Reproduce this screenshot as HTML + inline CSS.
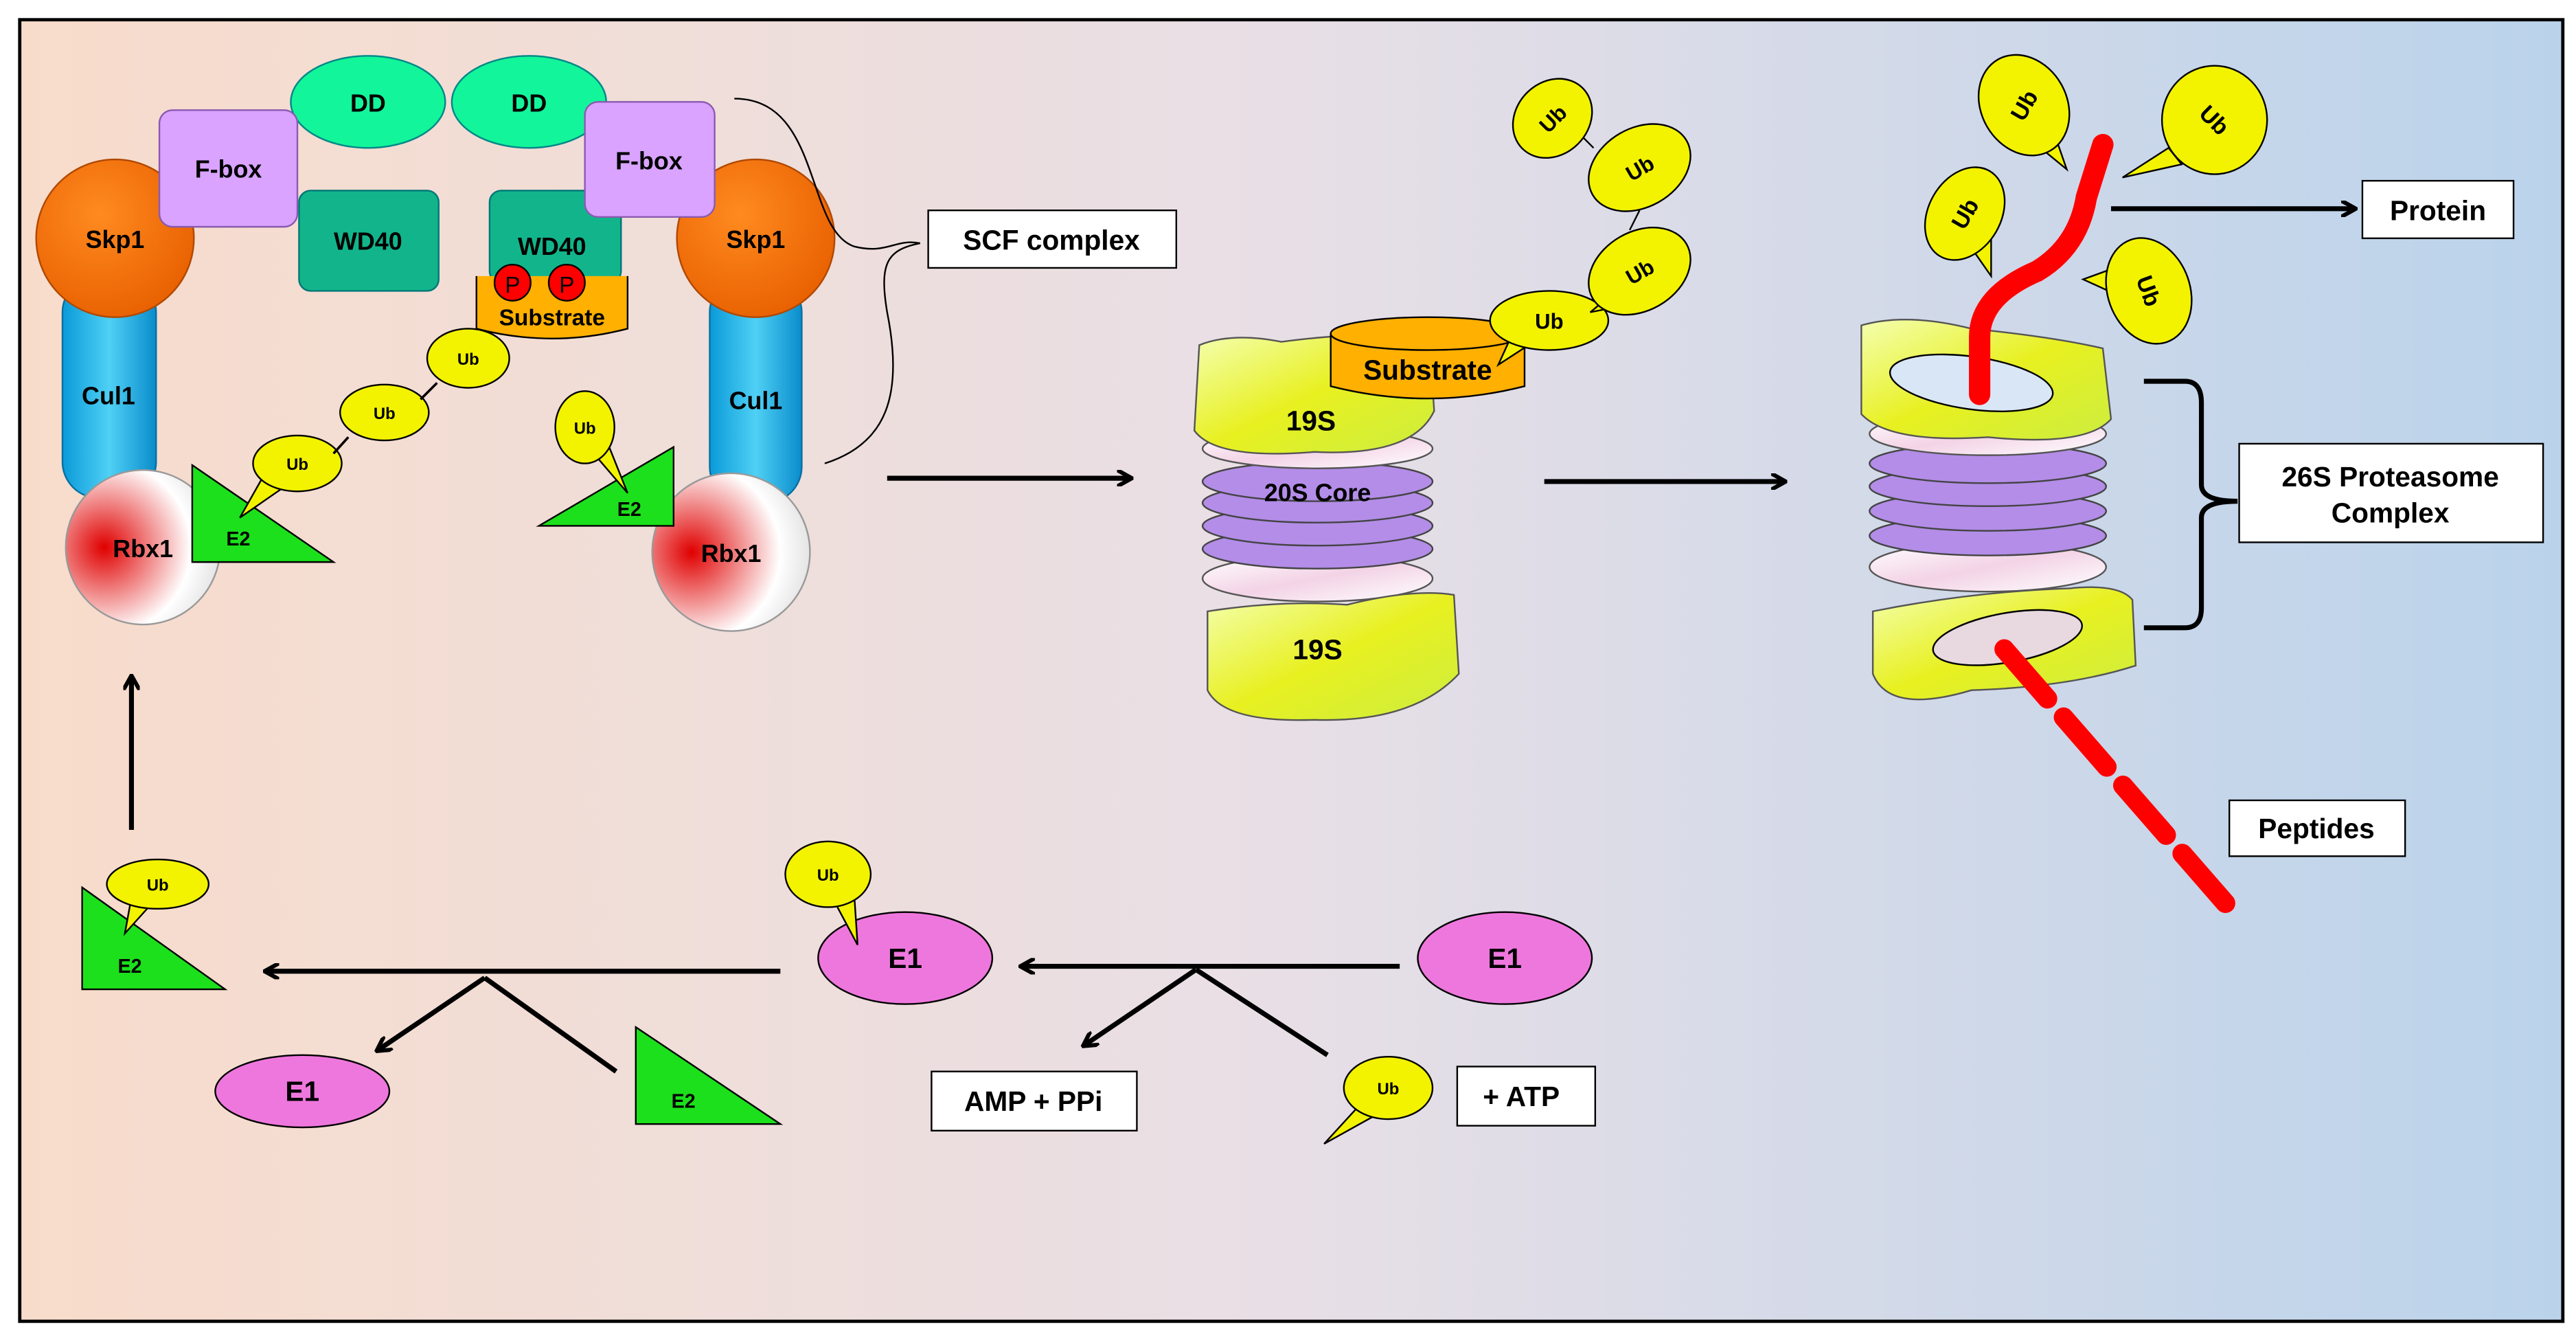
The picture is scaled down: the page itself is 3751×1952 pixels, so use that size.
<!DOCTYPE html>
<html><head><meta charset="utf-8"><style>
html,body{margin:0;padding:0;background:#fff;}
svg{display:block;font-family:"Liberation Sans",Arial,sans-serif;font-weight:bold;}
</style></head><body>
<svg width="3751" height="1952" viewBox="0 0 1568 816" xmlns="http://www.w3.org/2000/svg">
<defs>
<linearGradient id="bg" x1="0" x2="1" y1="0" y2="0">
<stop offset="0" stop-color="#f8dccb"/><stop offset="0.5" stop-color="#e8dfe6"/><stop offset="1" stop-color="#bad3eb"/></linearGradient>
<radialGradient id="rbx" cx="0.25" cy="0.5" r="0.8"><stop offset="0" stop-color="#e00000"/><stop offset="0.7" stop-color="#fff"/><stop offset="1" stop-color="#ddd"/></radialGradient>
<linearGradient id="cul" x1="0" x2="1"><stop offset="0" stop-color="#0a9ad8"/><stop offset="0.5" stop-color="#4fd0f5"/><stop offset="1" stop-color="#0a8ccc"/></linearGradient>
<radialGradient id="sk" cx="0.4" cy="0.35" r="0.7"><stop offset="0" stop-color="#ff8a20"/><stop offset="1" stop-color="#e86000"/></radialGradient>
<linearGradient id="y19" x1="0" x2="1" y1="0" y2="1"><stop offset="0" stop-color="#f4ffb0"/><stop offset="0.5" stop-color="#e8f020"/><stop offset="1" stop-color="#ccee40"/></linearGradient>
<linearGradient id="wd" x1="0" x2="1" y1="0" y2="1"><stop offset="0" stop-color="#fff"/><stop offset="0.5" stop-color="#f3d3e6"/><stop offset="1" stop-color="#fff"/></linearGradient>
<marker id="ar" markerWidth="10" markerHeight="10" refX="8" refY="5" orient="auto" markerUnits="userSpaceOnUse"><path d="M0,0 L9,5 L0,10" fill="none" stroke="#000" stroke-width="2.5"/></marker>
</defs>
<rect x="0" y="0" width="1568" height="816" fill="#fff"/>
<rect x="12" y="12" width="1548" height="792" fill="url(#bg)" stroke="#000" stroke-width="2"/>

<!-- left SCF -->
<rect x="38" y="168" width="57" height="135" rx="22" fill="url(#cul)" stroke="#0a6fa0"/>
<text x="66" y="246" font-size="15" text-anchor="middle">Cul1</text>
<rect x="432" y="168" width="56" height="138" rx="22" fill="url(#cul)" stroke="#0a6fa0"/>
<text x="460" y="249" font-size="15" text-anchor="middle">Cul1</text>
<circle cx="70" cy="145" r="48" fill="url(#sk)" stroke="#b04800"/>
<text x="70" y="151" font-size="15" text-anchor="middle">Skp1</text>
<circle cx="460" cy="145" r="48" fill="url(#sk)" stroke="#b04800"/>
<text x="460" y="151" font-size="15" text-anchor="middle">Skp1</text>
<circle cx="87" cy="333" r="47" fill="url(#rbx)" stroke="#999"/>
<text x="87" y="339" font-size="15" text-anchor="middle">Rbx1</text>
<circle cx="445" cy="336" r="48" fill="url(#rbx)" stroke="#999"/>
<text x="445" y="342" font-size="15" text-anchor="middle">Rbx1</text>
<ellipse cx="224" cy="62" rx="47" ry="28" fill="#13f59a" stroke="#088"/>
<text x="224" y="68" font-size="15" text-anchor="middle">DD</text>
<ellipse cx="322" cy="62" rx="47" ry="28" fill="#13f59a" stroke="#088"/>
<text x="322" y="68" font-size="15" text-anchor="middle">DD</text>
<rect x="97" y="67" width="84" height="71" rx="8" fill="#d9a3ff" stroke="#8a5ab0"/>
<text x="139" y="108" font-size="15" text-anchor="middle">F-box</text>
<rect x="182" y="116" width="85" height="61" rx="7" fill="#12b58b" stroke="#077"/>
<text x="224" y="152" font-size="15" text-anchor="middle">WD40</text>
<rect x="298" y="116" width="80" height="56" rx="7" fill="#12b58b" stroke="#077"/>
<text x="336" y="155" font-size="15" text-anchor="middle">WD40</text>
<rect x="356" y="62" width="79" height="70" rx="8" fill="#d9a3ff" stroke="#8a5ab0"/>
<text x="395" y="103" font-size="15" text-anchor="middle">F-box</text>
<path d="M290,168 L290,200 Q336,212 382,200 L382,168" fill="#ffb000" stroke="#000"/>
<circle cx="312" cy="172" r="11" fill="#f00" stroke="#000"/><text x="312" y="178" font-size="14" font-weight="normal" text-anchor="middle">P</text>
<circle cx="345" cy="172" r="11" fill="#f00" stroke="#000"/><text x="345" y="178" font-size="14" font-weight="normal" text-anchor="middle">P</text>
<text x="336" y="198" font-size="14" text-anchor="middle">Substrate</text>

<polygon points="117,283 117,342 203,342" fill="#1ce01c" stroke="#000"/>
<text x="145" y="332" font-size="12" text-anchor="middle">E2</text>
<path d="M159,292 L146,315 L172,297 Z" fill="#f3f300" stroke="#000"/>
<ellipse cx="181" cy="282" rx="27" ry="17" fill="#f3f300" stroke="#000"/><text x="181" y="286" font-size="10" text-anchor="middle">Ub</text>
<path d="M203,276 L212,266" stroke="#000" stroke-width="1.5"/>
<ellipse cx="234" cy="251" rx="27" ry="17" fill="#f3f300" stroke="#000"/><text x="234" y="255" font-size="10" text-anchor="middle">Ub</text>
<path d="M256,243 L266,233" stroke="#000" stroke-width="1.5"/>
<ellipse cx="285" cy="218" rx="25" ry="18" fill="#f3f300" stroke="#000"/><text x="285" y="222" font-size="10" text-anchor="middle">Ub</text>

<polygon points="328,320 410,272 410,320" fill="#1ce01c" stroke="#000"/>
<text x="383" y="314" font-size="12" text-anchor="middle">E2</text>
<path d="M358,272 L382,300 L370,270 Z" fill="#f3f300" stroke="#000"/>
<ellipse cx="356" cy="260" rx="18" ry="22" fill="#f3f300" stroke="#000"/><text x="356" y="264" font-size="10" text-anchor="middle">Ub</text>

<path d="M447,60 C500,60 490,140 520,150 C540,155 545,145 560,148 C540,152 535,160 540,190 C550,240 540,270 502,282" fill="none" stroke="#000" stroke-width="1"/>
<rect x="565" y="128" width="151" height="35" fill="#fff" stroke="#000"/>
<text x="640" y="152" font-size="17" text-anchor="middle">SCF complex</text>

<line x1="540" y1="291" x2="688" y2="291" stroke="#000" stroke-width="3" marker-end="url(#ar)"/>

<!-- middle proteasome -->
<ellipse cx="802" cy="352" rx="70" ry="14" fill="url(#wd)" stroke="#555"/>
<ellipse cx="802" cy="334" rx="70" ry="12" fill="#b38de8" stroke="#444"/>
<ellipse cx="802" cy="320" rx="70" ry="12" fill="#b38de8" stroke="#444"/>
<ellipse cx="802" cy="306" rx="70" ry="12" fill="#b38de8" stroke="#444"/>
<ellipse cx="802" cy="293" rx="70" ry="12" fill="#b38de8" stroke="#444"/>
<text x="802" y="305" font-size="15" text-anchor="middle">20S Core</text>
<ellipse cx="802" cy="273" rx="70" ry="12" fill="url(#wd)" stroke="#555"/>
<path d="M730,210 Q750,202 780,208 Q840,200 870,208 L873,250 Q860,278 800,275 Q740,280 727,262 Z" fill="url(#y19)" stroke="#555"/>
<text x="798" y="262" font-size="17" text-anchor="middle">19S</text>
<path d="M735,372 Q780,365 820,368 Q860,358 885,362 L888,410 Q860,440 800,438 Q745,440 735,420 Z" fill="url(#y19)" stroke="#555"/>
<text x="802" y="401" font-size="17" text-anchor="middle">19S</text>
<path d="M810,203 L810,235 Q869,250 928,235 L928,203" fill="#ffb000" stroke="#000"/>
<ellipse cx="869" cy="203" rx="59" ry="10" fill="#ffb000" stroke="#000"/>
<text x="869" y="231" font-size="17" text-anchor="middle">Substrate</text>
<path d="M922,200 L912,222 L935,207 Z" fill="#f3f300" stroke="#000"/>
<ellipse cx="943" cy="195" rx="36" ry="18" fill="#f3f300" stroke="#000"/><text x="943" y="200" font-size="13" text-anchor="middle">Ub</text>
<path d="M980,180 L968,190 L988,186Z" fill="#f3f300" stroke="#000"/>
<ellipse cx="998" cy="165" rx="33" ry="24" fill="#f3f300" stroke="#000" transform="rotate(-30 998 165)"/><text x="998" y="170" font-size="13" text-anchor="middle" transform="rotate(-30 998 165)">Ub</text>
<path d="M992,140 L998,128" stroke="#000"/>
<ellipse cx="998" cy="102" rx="33" ry="24" fill="#f3f300" stroke="#000" transform="rotate(-30 998 102)"/><text x="998" y="107" font-size="13" text-anchor="middle" transform="rotate(-30 998 102)">Ub</text>
<path d="M970,90 L962,82" stroke="#000"/>
<ellipse cx="945" cy="72" rx="26" ry="22" fill="#f3f300" stroke="#000" transform="rotate(-45 945 72)"/><text x="945" y="77" font-size="13" text-anchor="middle" transform="rotate(-45 945 72)">Ub</text>

<line x1="940" y1="293" x2="1086" y2="293" stroke="#000" stroke-width="3" marker-end="url(#ar)"/>

<!-- right proteasome -->
<ellipse cx="1210" cy="345" rx="72" ry="15" fill="url(#wd)" stroke="#555"/>
<ellipse cx="1210" cy="326" rx="72" ry="12" fill="#b38de8" stroke="#444"/>
<ellipse cx="1210" cy="311" rx="72" ry="12" fill="#b38de8" stroke="#444"/>
<ellipse cx="1210" cy="296" rx="72" ry="12" fill="#b38de8" stroke="#444"/>
<ellipse cx="1210" cy="282" rx="72" ry="12" fill="#b38de8" stroke="#444"/>
<ellipse cx="1210" cy="264" rx="72" ry="13" fill="url(#wd)" stroke="#555"/>
<path d="M1133,198 Q1160,190 1200,200 Q1250,205 1280,212 L1285,255 Q1270,272 1210,266 Q1150,270 1133,252 Z" fill="url(#y19)" stroke="#555"/>
<ellipse cx="1200" cy="233" rx="50" ry="16" fill="#d9e6f5" stroke="#000" transform="rotate(8 1200 233)"/>
<path d="M1140,372 Q1200,360 1260,358 Q1290,355 1298,365 L1300,405 Q1260,418 1200,420 Q1150,435 1140,410 Z" fill="url(#y19)" stroke="#555"/>
<ellipse cx="1222" cy="388" rx="46" ry="15" fill="#e8d8e0" stroke="#000" transform="rotate(-10 1222 388)"/>
<path d="M1205,240 L1205,205 Q1205,180 1240,165 Q1265,150 1270,120 L1280,88" fill="none" stroke="#f00" stroke-width="13" stroke-linecap="round"/>
<path d="M1220,395 L1355,550" stroke="#f00" stroke-width="12" stroke-dasharray="40,15" stroke-linecap="round"/>
<path d="M1236,85 L1258,103 L1250,80Z" fill="#f3f300" stroke="#000"/>
<ellipse cx="1232" cy="64" rx="26" ry="32" fill="#f3f300" stroke="#000" transform="rotate(-30 1232 64)"/><text x="1232" y="69" font-size="14" text-anchor="middle" transform="rotate(-60 1232 64)">Ub</text>
<path d="M1320,90 L1292,108 L1328,100Z" fill="#f3f300" stroke="#000"/>
<ellipse cx="1348" cy="73" rx="32" ry="33" fill="#f3f300" stroke="#000"/><text x="1348" y="78" font-size="14" text-anchor="middle" transform="rotate(45 1348 73)">Ub</text>
<path d="M1198,148 L1212,168 L1212,145Z" fill="#f3f300" stroke="#000"/>
<ellipse cx="1196" cy="130" rx="22" ry="30" fill="#f3f300" stroke="#000" transform="rotate(30 1196 130)"/><text x="1196" y="135" font-size="14" text-anchor="middle" transform="rotate(-60 1196 130)">Ub</text>
<path d="M1290,162 L1268,170 L1290,180Z" fill="#f3f300" stroke="#000"/>
<ellipse cx="1308" cy="177" rx="25" ry="33" fill="#f3f300" stroke="#000" transform="rotate(-20 1308 177)"/><text x="1308" y="182" font-size="14" text-anchor="middle" transform="rotate(70 1308 177)">Ub</text>

<line x1="1285" y1="127" x2="1433" y2="127" stroke="#000" stroke-width="3" marker-end="url(#ar)"/>
<rect x="1438" y="110" width="92" height="35" fill="#fff" stroke="#000"/>
<text x="1484" y="134" font-size="17" text-anchor="middle">Protein</text>
<path d="M1305,232 L1330,232 Q1340,232 1340,245 L1340,295 Q1340,305 1362,305 Q1340,305 1340,315 L1340,370 Q1340,382 1330,382 L1305,382" fill="none" stroke="#000" stroke-width="3"/>
<rect x="1363" y="270" width="185" height="60" fill="#fff" stroke="#000"/>
<text x="1455" y="296" font-size="17" text-anchor="middle">26S Proteasome</text>
<text x="1455" y="318" font-size="17" text-anchor="middle">Complex</text>
<rect x="1357" y="487" width="107" height="34" fill="#fff" stroke="#000"/>
<text x="1410" y="510" font-size="17" text-anchor="middle">Peptides</text>

<!-- bottom cycle -->
<line x1="80" y1="505" x2="80" y2="412" stroke="#000" stroke-width="3" marker-end="url(#ar)"/>
<polygon points="50,540 50,602 137,602" fill="#1ce01c" stroke="#000"/>
<text x="79" y="592" font-size="12" text-anchor="middle">E2</text>
<path d="M80,546 L76,568 L94,548Z" fill="#f3f300" stroke="#000"/>
<ellipse cx="96" cy="538" rx="31" ry="15" fill="#f3f300" stroke="#000"/><text x="96" y="542" font-size="10" text-anchor="middle">Ub</text>
<line x1="475" y1="591" x2="162" y2="591" stroke="#000" stroke-width="3" marker-end="url(#ar)"/>
<line x1="295" y1="595" x2="230" y2="639" stroke="#000" stroke-width="3" marker-end="url(#ar)"/>
<line x1="295" y1="595" x2="375" y2="652" stroke="#000" stroke-width="3"/>
<ellipse cx="184" cy="664" rx="53" ry="22" fill="#ee77dd" stroke="#000"/>
<text x="184" y="670" font-size="17" text-anchor="middle">E1</text>
<polygon points="387,625 387,684 475,684" fill="#1ce01c" stroke="#000"/>
<text x="416" y="674" font-size="12" text-anchor="middle">E2</text>

<ellipse cx="551" cy="583" rx="53" ry="28" fill="#ee77dd" stroke="#000"/>
<text x="551" y="589" font-size="17" text-anchor="middle">E1</text>
<path d="M506,545 L522,575 L520,545Z" fill="#f3f300" stroke="#000"/>
<ellipse cx="504" cy="532" rx="26" ry="20" fill="#f3f300" stroke="#000"/><text x="504" y="536" font-size="10" text-anchor="middle">Ub</text>
<line x1="852" y1="588" x2="622" y2="588" stroke="#000" stroke-width="3" marker-end="url(#ar)"/>
<line x1="728" y1="590" x2="660" y2="636" stroke="#000" stroke-width="3" marker-end="url(#ar)"/>
<line x1="728" y1="590" x2="808" y2="642" stroke="#000" stroke-width="3"/>
<rect x="567" y="652" width="125" height="36" fill="#fff" stroke="#000"/>
<text x="629" y="676" font-size="17" text-anchor="middle">AMP + PPi</text>
<ellipse cx="916" cy="583" rx="53" ry="28" fill="#ee77dd" stroke="#000"/>
<text x="916" y="589" font-size="17" text-anchor="middle">E1</text>
<path d="M828,672 L806,696 L842,676Z" fill="#f3f300" stroke="#000"/>
<ellipse cx="845" cy="662" rx="27" ry="19" fill="#f3f300" stroke="#000"/><text x="845" y="666" font-size="10" text-anchor="middle">Ub</text>
<rect x="887" y="649" width="84" height="36" fill="#fff" stroke="#000"/>
<text x="926" y="673" font-size="17" text-anchor="middle">+ ATP</text>
</svg>
</body></html>
